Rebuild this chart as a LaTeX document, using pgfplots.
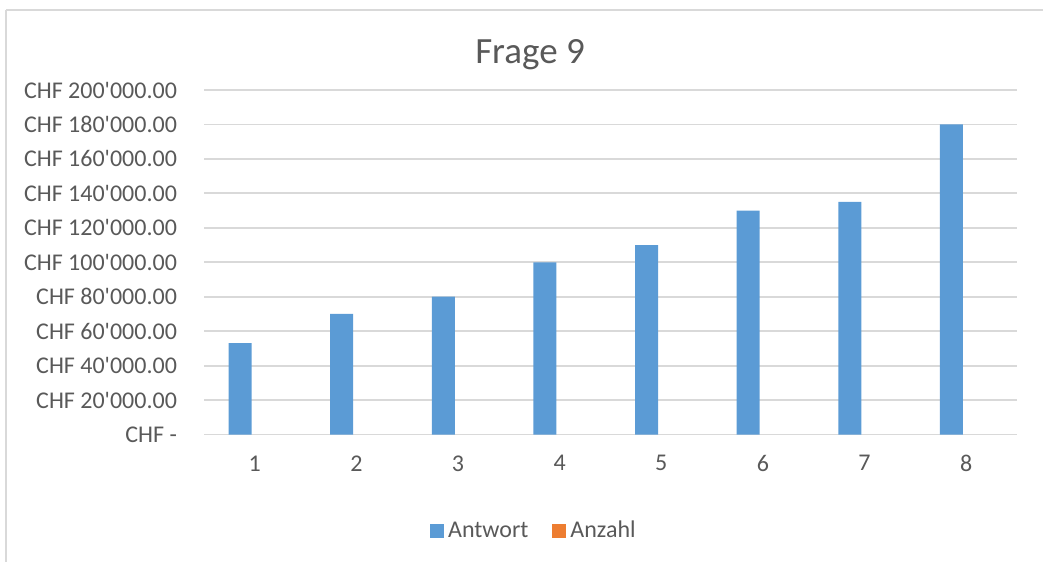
\documentclass[border=0pt]{standalone}
\usepackage{fontspec}
\newfontfamily\calibri{Carlito}
\usepackage{pgfplots}
\pgfplotsset{compat=1.18}
\definecolor{txt}{HTML}{595959}
\definecolor{gridc}{HTML}{D9D9D9}
\definecolor{blueb}{HTML}{5B9BD5}
\definecolor{orangeb}{HTML}{ED7D31}
\begin{document}
\calibri
\begin{tikzpicture}
\begin{scope}[x=0.5pt,y=-0.5pt]
\path[use as bounding box] (0,0) rectangle (1043,562);
\draw[gridc, line width=1pt] (6,10) -- (1043,10);
\draw[gridc, line width=1pt] (6,10) -- (6,562);
\node[txt, font=\calibri\fontsize{18.5}{20}\selectfont] at (530,55) {Frage 9};
\end{scope}
\begin{axis}[
  at={(102pt,-217.25pt)}, anchor=south west,
  scale only axis,
  width=406.5pt, height=172.25pt,
  xmin=0.5, xmax=8.5,
  ymin=0, ymax=200000,
  scaled y ticks=false,
  xtick={1,...,8},
  xticklabels={1,2,3,4,5,6,7,8},
  ytick={0,20000,...,200000},
  yticklabels={CHF -\hspace{6pt},CHF 20'000.00,CHF 40'000.00,CHF 60'000.00,CHF 80'000.00,CHF 100'000.00,CHF 120'000.00,CHF 140'000.00,CHF 160'000.00,CHF 180'000.00,CHF 200'000.00},
  tick label style={txt, font=\calibri\fontsize{12}{14}\selectfont},
  yticklabel style={xshift=-10pt},
  xticklabel style={yshift=-7pt},
  major tick length=0pt,
  axis line style={draw=none},
  ymajorgrids,
  grid style={gridc, line width=0.9pt},
  ybar, bar width=11.5pt,
  legend style={at={(0.407,-0.28)}, anchor=center, draw=none, fill=none,
    legend columns=2, font=\calibri\fontsize{12}{14}\selectfont, text=txt,
    /tikz/every even column/.append style={column sep=10pt}},
  legend image code/.code={\fill[#1] (0pt,-3.5pt) rectangle (7pt,3.5pt);},
  clip=false,
]
\addplot[fill=blueb, draw=none, bar shift=-7.4pt] coordinates {(1,53000) (2,70000) (3,80000) (4,100000) (5,110000) (6,130000) (7,135000) (8,180000)};
\addlegendentry{Antwort}
\addlegendimage{fill=orangeb, draw=none}
\addlegendentry{Anzahl}
\end{axis}
\end{tikzpicture}
\end{document}
